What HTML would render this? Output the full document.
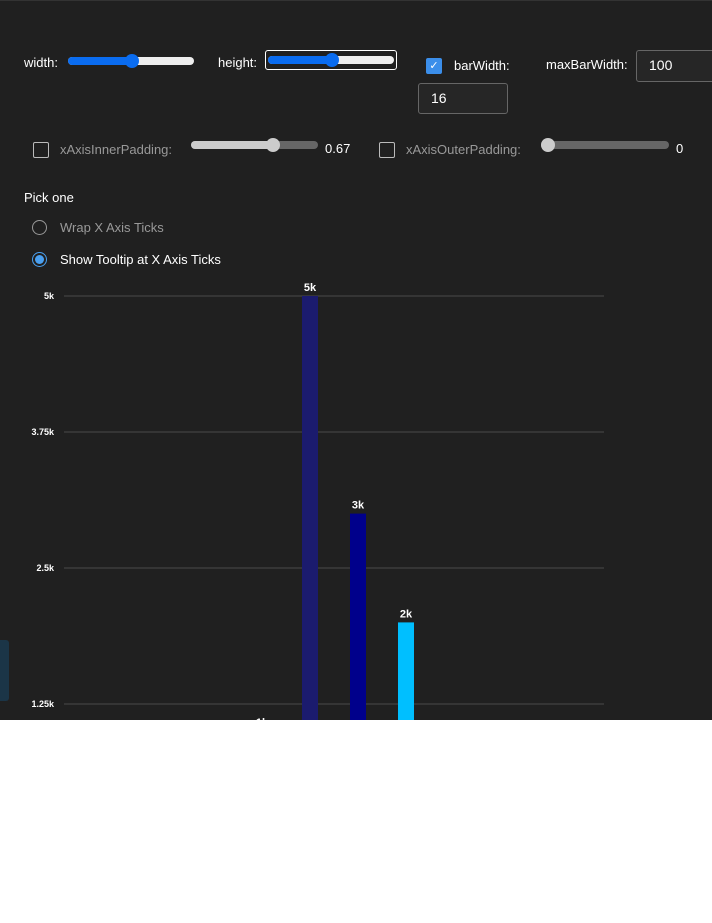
<!DOCTYPE html>
<html><head><meta charset="utf-8"><style>
body{margin:0;width:712px;height:923px;background:#fff;font-family:"Segoe UI","Liberation Sans",sans-serif;overflow:hidden}
#dark{position:absolute;left:0;top:0;width:712px;height:720px;background:#202020;border-top:1px solid #333;box-sizing:border-box;overflow:hidden;color:#fff;font-size:13px}
.abs{position:absolute}
.track{position:absolute;height:8px;border-radius:4px}
.thumb{position:absolute;width:14px;height:14px;border-radius:50%}
.cb{position:absolute;width:14px;height:14px;border:1px solid #bbb;border-radius:2px}
.inp{position:absolute;border:1px solid #666;border-radius:3px;background:#262626;color:#fff;font-size:14px;box-sizing:border-box;padding-left:12px;line-height:28px}
</style></head><body>
<div id="dark">
<span class="abs" style="left:24px;top:54px">width:</span>
<div class="track" style="left:68px;top:56px;width:126px;background:#eee"></div>
<div class="track" style="left:68px;top:56px;width:64px;background:#0a6cf0"></div>
<div class="thumb" style="left:125px;top:53px;background:#0a6cf0"></div>
<span class="abs" style="left:218px;top:54px">height:</span>
<div class="abs" style="left:265px;top:49px;width:132px;height:20px;border:1px solid #fff;border-radius:3px;box-sizing:border-box"></div>
<div class="track" style="left:268px;top:55px;width:126px;background:#eee"></div>
<div class="track" style="left:268px;top:55px;width:64px;background:#0a6cf0"></div>
<div class="thumb" style="left:325px;top:52px;background:#0a6cf0"></div>
<div class="cb" style="left:426px;top:57px;background:#3b8eea;border-color:#3b8eea;color:#fff;font-size:11px;text-align:center;line-height:14px">✓</div>
<span class="abs" style="left:454px;top:57px">barWidth:</span>
<span class="abs" style="left:546px;top:56px">maxBarWidth:</span>
<div class="inp" style="left:636px;top:49px;width:90px;height:32px">100</div>
<div class="inp" style="left:418px;top:82px;width:90px;height:31px">16</div>
<div class="cb" style="left:33px;top:141px"></div>
<span class="abs" style="left:60px;top:141px;color:#999">xAxisInnerPadding:</span>
<div class="track" style="left:191px;top:140px;width:127px;background:#666"></div>
<div class="track" style="left:191px;top:140px;width:84px;background:#ccc"></div>
<div class="thumb" style="left:266px;top:137px;background:#ccc"></div>
<span class="abs" style="left:325px;top:140px">0.67</span>
<div class="cb" style="left:379px;top:141px"></div>
<span class="abs" style="left:406px;top:141px;color:#999">xAxisOuterPadding:</span>
<div class="track" style="left:541px;top:140px;width:128px;background:#666"></div>
<div class="thumb" style="left:541px;top:137px;background:#ccc"></div>
<span class="abs" style="left:676px;top:140px">0</span>
<span class="abs" style="left:24px;top:189px">Pick one</span>
<div class="abs" style="left:32px;top:219px;width:13px;height:13px;border:1px solid #999;border-radius:50%"></div>
<span class="abs" style="left:60px;top:219px;color:#999">Wrap X Axis Ticks</span>
<div class="abs" style="left:32px;top:251px;width:13px;height:13px;border:1px solid #4aa0f0;border-radius:50%;box-sizing:content-box"><div style="margin:2px;width:9px;height:9px;border-radius:50%;background:#4aa0f0"></div></div>
<span class="abs" style="left:60px;top:251px">Show Tooltip at X Axis Ticks</span>
<div class="abs" style="left:0;top:639px;width:9px;height:61px;background:#1b3547;border-radius:0 3px 3px 0"></div>
<svg id="chart" class="abs" style="left:0;top:0" width="712" height="720"></svg>
</div>
<script>
const categories=["A","B","C","D"];
const values=[1000,5000,3000,2000];
const labels=["1k","5k","3k","2k"];
const colors=["#5b2d8e","#1b1b6e","#00008b","#00bfff"];
const ticks=[1250,2500,3750,5000];
const tickLabels=["1.25k","2.5k","3.75k","5k"];
const ns="http://www.w3.org/2000/svg";
const svg=document.getElementById('chart');
const y=v=>839-v*(544/5000);
const x=i=>262+i*48;
function mk(t,a){const e=document.createElementNS(ns,t);for(const k in a)e.setAttribute(k,a[k]);svg.appendChild(e);return e;}
ticks.forEach((t,i)=>{
 const l=mk('line',{x1:64,x2:604,y1:y(t),y2:y(t),stroke:'#4a4a4a','stroke-width':1});
 
 
 const tx=mk('text',{x:54,y:y(t)+3,'text-anchor':'end',fill:'#fff','font-size':9,'font-weight':'bold','font-family':'Liberation Sans, sans-serif'});
 tx.textContent=tickLabels[i];
 
 
});
values.forEach((v,i)=>{
 const r=mk('rect',{x:x(i)-8,y:y(v),width:16,height:839-y(v),fill:colors[i]});
 
 
 const tx=mk('text',{x:x(i),y:y(v)-5,'text-anchor':'middle',fill:'#fff','font-size':11,'font-weight':'bold','font-family':'Liberation Sans, sans-serif'});
 tx.textContent=labels[i];
 
 
});
</script>
</body></html>
